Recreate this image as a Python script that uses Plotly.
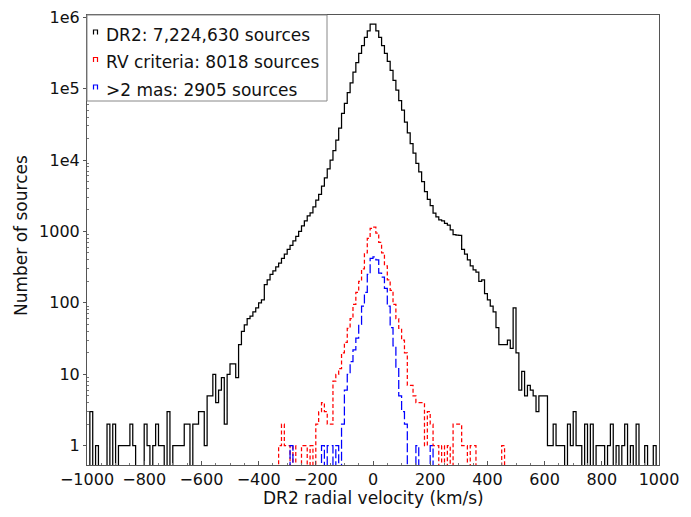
import plotly.graph_objects as go

BIN = 10

# DR2 full sample: counts per 10 km/s bin, bins start at -1000
dr2_start = -1000
dr2_counts = [
    0, 3, 0, 1, 0, 0, 0, 2, 0, 2,
    0, 1, 1, 1, 1, 2, 1, 0, 0, 0,
    2, 1, 0, 1, 2, 1, 1, 0, 3, 0,
    1, 1, 1, 1, 2, 2, 0, 2, 2, 3,
    3, 1, 5, 5, 10, 4, 6, 9, 2, 10,
    14, 14, 9, 26, 40, 49, 60, 65, 75, 85,
    100, 110, 180, 210, 250, 280, 320, 360, 420, 480,
    560, 640, 740, 850, 1000, 1200, 1400, 1650, 1820, 2200,
    2750, 3300, 4300, 5600, 7500, 10000, 13500, 19000, 28000, 45000,
    62000, 88000, 120000, 170000, 230000, 310000, 400000, 520000, 640000, 800000,
    800000, 640000, 520000, 400000, 310000, 240000, 180000, 130000, 95000, 68000,
    50000, 34000, 24000, 17000, 12500, 9000, 6800, 5000, 3600, 2800,
    2300, 1800, 1600, 1450, 1400, 1300, 1230, 1050, 900, 890,
    880, 560, 480, 400, 330, 290, 270, 200, 210, 135,
    110, 90, 75, 45, 26, 26, 26, 30, 23, 85,
    20, 6, 11, 5, 7, 6, 5, 3, 5, 5,
    5, 1, 1, 2, 1, 1, 1, 0, 2, 1,
    3, 1, 1, 0, 2, 0, 2, 0, 1, 1,
    1, 0, 1, 2, 0, 1, 0, 1, 2, 0,
    1, 0, 2, 0, 0, 1, 0, 0, 1, 0,
]

# RV criteria sample
rv_start = -350
rv_counts = [
    0, 0, 1, 2, 1, 1, 0, 1, 0, 0,
    1, 1, 0, 1, 0, 2, 3, 4, 3, 2,
    2, 8, 10, 12, 20, 28, 44, 60, 95, 140,
    200, 300, 500, 800, 1100, 1150, 950, 700, 500, 330,
    210, 150, 95, 60, 44, 30, 20, 7, 7, 5,
    4, 4, 4, 1, 3, 2, 1, 1, 0, 1,
    0, 1, 0, 2, 2, 2, 1, 1, 0, 1,
    1, 0, 0, 0, 0, 0, 0, 0, 0, 0,
    1, 0,
]

# parallax > 2 mas sample
mas_start = -300
mas_counts = [
    0, 1, 0, 0, 0, 0, 0, 0, 0, 0,
    0, 0, 1, 0, 1, 1, 0, 1, 0, 2,
    6, 10, 15, 22, 32, 50, 90, 140, 250, 420,
    440, 400, 260, 230, 160, 90, 45, 25, 12, 5,
    3, 2, 0, 0, 0, 1, 0, 0, 0, 0,
    1, 0,
]

legend_labels = [
    "DR2: 7,224,630 sources",
    "RV criteria: 8018 sources",
    ">2 mas: 2905 sources",
]
colors = ["#000000", "#ff0000", "#0000ff"]

x_tickvals = list(range(-1000, 1001, 200))
y_tickvals = [1, 10, 100, 1000, 1e4, 1e5, 1e6]
y_ticktext = ["1", "10", "100", "1000", "1e4", "1e5", "1e6"]
y_minor = [m * 10 ** k for k in range(0, 6) for m in range(2, 10)]

FLOOR = 1e-3  # zero bins drop below the axis floor


def step_xy(start, counts):
    xs = [start + BIN * i for i in range(len(counts) + 1)]
    ys = [c if c > 0 else FLOOR for c in counts]
    ys = ys + [ys[-1]]
    return xs, ys


fig = go.Figure()
series = [(dr2_start, dr2_counts, "solid", 1.25),
          (rv_start, rv_counts, "4px,2.5px", 1.25),
          (mas_start, mas_counts, "9px,3px", 1.25)]
for (start, counts, dash, w), col, lab in zip(series, colors, legend_labels):
    xs, ys = step_xy(start, counts)
    fig.add_trace(go.Scatter(x=xs, y=ys, mode="lines", line_shape="hv",
                             line=dict(color=col, width=w, dash=dash),
                             name=lab, showlegend=False, hoverinfo="skip"))

# page has an 8px body margin; figure occupies (8,8)-(691,517)
OFF = 8
W, H = 691 - OFF, 517 - OFF
L, R, T, B = 87 - OFF, 32, 15 - OFF, 52
pw, ph = W - L - R, H - T - B


def px(xp):
    # xp in page pixels
    return (xp - OFF - L) / pw


def py(yp):
    return (H - B - (yp - OFF)) / ph


font = "DejaVu Sans"
fig.update_layout(
    width=W, height=H,
    margin=dict(l=L, r=R, t=T, b=B, pad=0, autoexpand=False),
    paper_bgcolor="white", plot_bgcolor="white",
    font=dict(family=font, size=16, color="#111"),
    showlegend=False,
)
fig.update_xaxes(
    range=[-1000, 1000], tickvals=x_tickvals, automargin=False,
    showgrid=False, zeroline=False, ticklabeloverflow="allow",
    showline=True, mirror=True, linecolor="#555", linewidth=1,
    ticks="inside", ticklen=4, tickcolor="#555",
    minor=dict(dtick=50, ticks="inside", ticklen=2, tickcolor="#777"),
    tickfont=dict(size=16),
)
fig.update_yaxes(
    type="log", range=[-0.27, 6.03], automargin=False,
    tickvals=y_tickvals, ticktext=y_ticktext, ticklabeloverflow="allow",
    showgrid=False, zeroline=False,
    showline=True, mirror=True, linecolor="#555", linewidth=1,
    ticks="outside", ticklen=3, tickcolor="#555",
    minor=dict(tickvals=y_minor, ticks="inside", ticklen=2, tickcolor="#777"),
    tickfont=dict(size=16),
)

# axis titles
fig.add_annotation(text="DR2 radial velocity (km/s)", xref="paper", yref="paper",
                   x=px(373), y=py(498), showarrow=False, font=dict(size=17),
                   xanchor="center", yanchor="middle")
fig.add_annotation(text="Number of sources", xref="paper", yref="paper",
                   x=px(21), y=py(236), showarrow=False, font=dict(size=17),
                   textangle=-90, xanchor="center", yanchor="middle")

# legend box
fig.add_shape(type="rect", xref="paper", yref="paper",
              x0=px(87), x1=px(327), y0=py(101), y1=py(15),
              line=dict(color="#888", width=1), fillcolor="white", layer="above")
rows = [35, 62.5, 90]
for lab, col, yc in zip(legend_labels, colors, rows):
    fig.add_annotation(text=lab, xref="paper", yref="paper",
                       x=px(104), y=py(yc), showarrow=False,
                       font=dict(size=17, color="#111"),
                       xanchor="left", yanchor="middle")
    x0, x1 = px(93.5), px(97.5)
    y0, y1 = py(yc - 0.5), py(yc - 5)
    fig.add_shape(type="path", xref="paper", yref="paper",
                  path=f"M {x0} {y0} L {x0} {y1} L {x1} {y1} L {x1} {y0}",
                  line=dict(color=col, width=1.2), layer="above")

fig.write_html("out.html")
